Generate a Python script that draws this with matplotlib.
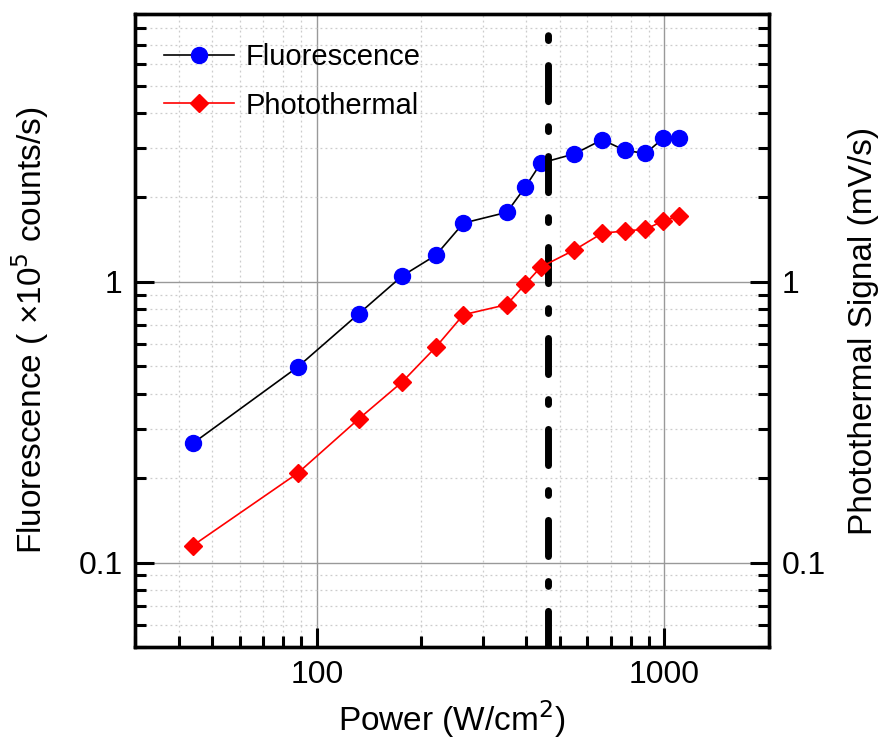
import matplotlib
matplotlib.use("Agg")
import matplotlib.pyplot as plt
from matplotlib.ticker import LogLocator, FixedLocator, FixedFormatter, NullFormatter

plt.rcParams['font.family'] = ['Liberation Sans', 'DejaVu Sans']

# Power density (W/cm^2)
power = [44, 88, 132, 176, 220, 264, 352, 397, 441, 551, 662, 771, 882, 992, 1103]
# Fluorescence (x10^5 counts/s)
fluorescence = [0.266, 0.497, 0.77, 1.05, 1.245, 1.62, 1.77, 2.17, 2.65, 2.86, 3.21, 2.94, 2.87, 3.25, 3.25]
# Photothermal signal (mV/s)
photothermal = [0.115, 0.208, 0.325, 0.44, 0.586, 0.764, 0.83, 0.98, 1.13, 1.30, 1.49, 1.52, 1.54, 1.65, 1.72]

threshold = 462  # marked power level
x_ticks = [100, 1000]
x_ticklabels = ["100", "1000"]
y_ticks = [0.1, 1]
y_ticklabels = ["0.1", "1"]

fig = plt.figure(figsize=(8.83, 7.42), dpi=100)
ax = fig.add_axes([0.153, 0.128, 0.718, 0.853])
ax2 = ax.twinx()

for a in (ax, ax2):
    a.set_xscale('log')
    a.set_yscale('log')
    a.set_xlim(30, 2000)
    a.set_ylim(0.05, 9)

# grid on the main axes
ax.grid(True, which='major', color='#999999', linewidth=1.0, linestyle='-')
ax.grid(True, which='minor', color='#cccccc', linewidth=0.9, linestyle=(0, (1.5, 2.5)))
ax.set_axisbelow(True)

l1, = ax.plot(power, fluorescence, color='black', linewidth=1.2, marker='o',
              markersize=11.5, markerfacecolor='blue', markeredgecolor='blue',
              label='Fluorescence', zorder=3)
l2, = ax2.plot(power, photothermal, color='red', linewidth=1.2, marker='D',
               markersize=9, markerfacecolor='red', markeredgecolor='red',
               label='Photothermal', zorder=3)

# threshold line, dash-dot (pattern in units of line width)
ax.plot([threshold, threshold], [0.05, 8], color='black', linewidth=5,
        linestyle=(0, (5.2, 3.6, 0.7, 3.6)), dash_capstyle='round', zorder=4)

# ticks
for a in (ax, ax2):
    a.xaxis.set_major_locator(FixedLocator(x_ticks))
    a.xaxis.set_major_formatter(FixedFormatter(x_ticklabels))
    a.xaxis.set_minor_locator(LogLocator(base=10, subs=range(2, 10)))
    a.xaxis.set_minor_formatter(NullFormatter())
    a.yaxis.set_major_locator(FixedLocator(y_ticks))
    a.yaxis.set_major_formatter(FixedFormatter(y_ticklabels))
    a.yaxis.set_minor_locator(LogLocator(base=10, subs=range(2, 10)))
    a.yaxis.set_minor_formatter(NullFormatter())

ax.tick_params(which='both', direction='in', top=False, right=False, width=2.2, labelsize=23, pad=9)
ax.tick_params(which='major', length=14)
ax.tick_params(which='minor', length=8)
ax2.tick_params(which='both', direction='in', top=False, bottom=False, width=2.2, labelsize=23, pad=9)
ax2.tick_params(which='major', length=14)
ax2.tick_params(which='minor', length=8)
ax2.tick_params(axis='x', which='both', bottom=False, labelbottom=False)

for a in (ax, ax2):
    for s in a.spines.values():
        s.set_linewidth(2.4)

ax.set_xlabel('Power (W/cm$^2$)', fontsize=24, labelpad=6)
ax.set_ylabel('Fluorescence ( \u00d710$^5$ counts/s)', fontsize=24, labelpad=20)
ax2.set_ylabel('Photothermal Signal (mV/s)', fontsize=24, labelpad=16)

ax2.legend(handles=[l1, l2], loc='upper left', frameon=False, fontsize=21,
           handlelength=2.4, handletextpad=0.4, labelspacing=0.7,
           borderaxespad=0.6)

fig.savefig('out.png', dpi=100)
